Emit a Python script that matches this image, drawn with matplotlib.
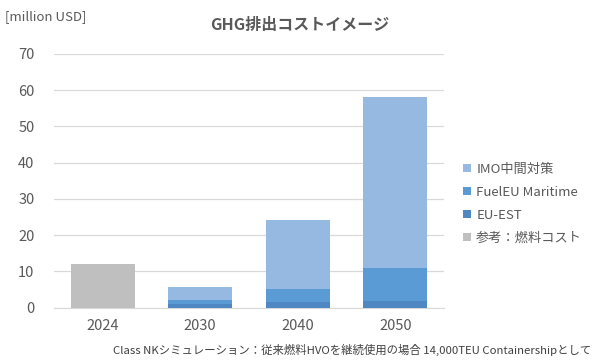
import numpy as np
import matplotlib
matplotlib.use("Agg")
from matplotlib import pyplot as plt

plt.rcParams['font.family'] = ['Noto Sans CJK JP', 'DejaVu Sans']

years = ['2024', '2030', '2040', '2050']
eu_est = [0, 1.0, 1.5, 1.9]
fueleu = [0, 1.0, 3.6, 9.1]
imo = [0, 3.8, 19.0, 47.2]
fuel_cost = [12, 0, 0, 0]

labels = ['EU-EST', 'FuelEU Maritime', 'IMO中間対策', '参考：燃料コスト']
colors = ['#4F87C2', '#5B9BD5', '#95B9E1', '#BFBFBF']
txt = '#595959'

fig = plt.figure(figsize=(6, 3.64), dpi=100)
ax = fig.add_axes([0.09, 0.155, 0.65, 0.697])

x = np.arange(len(years))
w = 0.66
bottom = np.zeros(len(years))
for vals, lab, c in zip([eu_est, fueleu, imo, fuel_cost], labels, colors):
    ax.bar(x, vals, w, bottom=bottom, color=c, label=lab, zorder=3)
    bottom += np.array(vals)

ax.set_xlim(-0.5, 3.5)
ax.set_ylim(0, 70)
ax.set_yticks(range(0, 71, 10))
ax.set_xticks(x)
ax.set_xticklabels(years)
ax.yaxis.grid(True, color='#D9D9D9', lw=0.9, zorder=0)
for s in ['top', 'right', 'left']:
    ax.spines[s].set_visible(False)
ax.spines['bottom'].set_color('#D9D9D9')
ax.tick_params(axis='both', length=0, colors=txt, labelsize=10.5)
ax.tick_params(axis='y', pad=14)
ax.tick_params(axis='x', pad=8)

h, l = ax.get_legend_handles_labels()
order = [2, 1, 0, 3]
leg = fig.legend([h[i] for i in order], [l[i] for i in order],
                 loc='upper left', bbox_to_anchor=(0.752, 0.585),
                 frameon=False, fontsize=9.5, handlelength=0.6,
                 handleheight=0.6, handletextpad=0.4, labelspacing=0.75)
for t in leg.get_texts():
    t.set_color(txt)

fig.text(0.5, 0.93, 'GHG排出コストイメージ', ha='center', va='center',
         fontsize=11.5, fontweight='bold', color=txt)
fig.text(0.008, 0.955, '[million USD]', ha='left', va='center',
         fontsize=9.5, color=txt)
fig.text(0.985, 0.04,
         'Class NKシミュレーション：従来燃料HVOを継続使用の場合 14,000TEU Containershipとして',
         ha='right', va='center', fontsize=8.2, color='#404040')

fig.savefig('out.png', dpi=100)
